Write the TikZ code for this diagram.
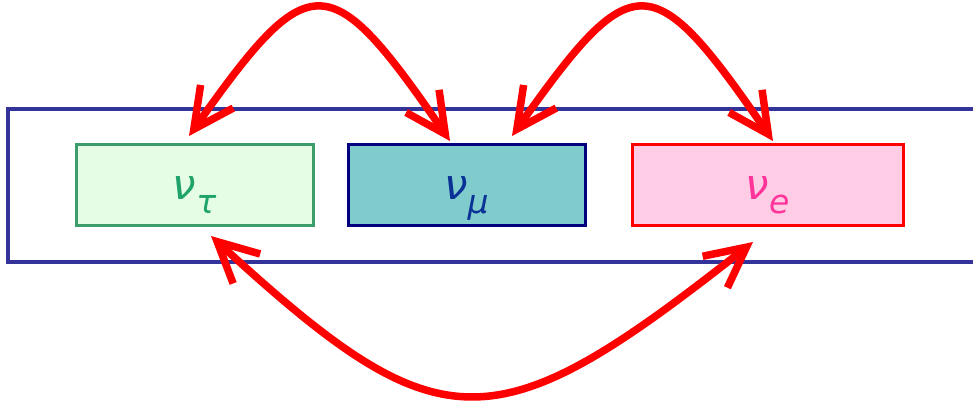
\documentclass[tikz,border=0pt]{standalone}
\usepackage{fontspec}
\setmainfont{DejaVu Sans}
\usetikzlibrary{arrows.meta}
\definecolor{framec}{HTML}{333399}
\definecolor{gborder}{HTML}{3C9C6C}
\definecolor{gfill}{HTML}{E4FDE4}
\definecolor{gtext}{HTML}{1FA36A}
\definecolor{tfill}{HTML}{80CCCC}
\definecolor{nborder}{HTML}{000080}
\definecolor{ntext}{HTML}{0A3296}
\definecolor{pfill}{HTML}{FFCCE5}
\definecolor{pborder}{HTML}{FF0000}
\definecolor{ptext}{HTML}{FF3399}
\definecolor{arrc}{HTML}{FF0000}
\newcommand{\nulab}[1]{{\fontsize{42}{42}\selectfont\itshape ν}\raisebox{-14pt}{\fontsize{33}{33}\selectfont\itshape #1}}
\begin{document}
\begin{tikzpicture}[x=1pt,y=-1pt,
  framebox/.style={draw=framec,line width=4pt,minimum width=982pt,minimum height=153pt,inner sep=0pt},
  nbox/.style={line width=3pt,minimum height=81pt,inner sep=0pt,text height=29pt,text depth=0pt},
  arr/.style={draw=arrc,line width=7.5pt,line cap=round,{Straight Barb[length=40pt,width=40pt]}-{Straight Barb[length=40pt,width=40pt]}}]
\useasboundingbox (0,0) rectangle (973,405);
\clip (0,0) rectangle (973,405);
\node[framebox] (outer) at (499,185.5) {};
\node[nbox,draw=gborder,fill=gfill,text=gtext,minimum width=237pt] (tau) at (194.5,184.5) {\nulab{τ}};
\node[nbox,draw=nborder,fill=tfill,text=ntext,minimum width=237pt] (mu) at (466.5,184.5) {\nulab{μ}};
\node[nbox,draw=pborder,fill=pfill,text=ptext,minimum width=271pt] (e) at (767.5,184.5) {\nulab{e}};
\coordinate (a1) at (189,136);
\coordinate (b1) at (450,141);
\coordinate (a2) at (512,136);
\coordinate (b2) at (773,141);
\coordinate (a3) at (211,236);
\coordinate (b3) at (753,242);
\draw[arr] (a1) .. controls (310,-35) and (329,-35) .. (b1);
\draw[arr] (a2) .. controls (633,-35) and (652,-35) .. (b2);
\draw[arr] (a3) .. controls (441,447) and (493,447) .. (b3);
\end{tikzpicture}
\end{document}
